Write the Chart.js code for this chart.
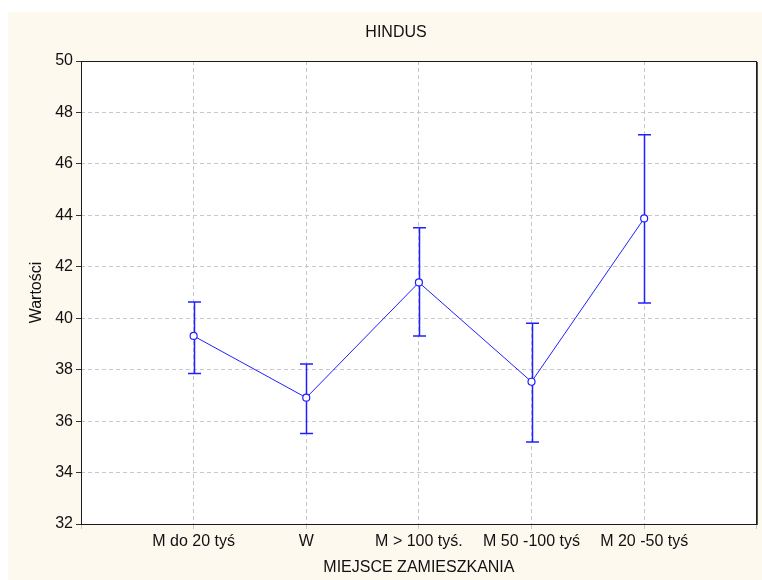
<!DOCTYPE html>
<html>
<head>
<meta charset="utf-8">
<script src="https://cdn.jsdelivr.net/npm/chart.js@4.4.1/dist/chart.umd.min.js"></script>
<style>
  html, body { margin: 0; padding: 0; background: #fff; }
  #wrap { width: 762px; height: 580px; }
</style>
</head>
<body>
<div id="wrap"><canvas id="chart" width="762" height="580"></canvas></div>
<script>
// values (means with confidence limits)
const chartTitle = 'HINDUS';
const categories = ['M do 20 tyś', 'W', 'M > 100 tyś.', 'M 50 -100 tyś', 'M 20 -50 tyś'];
const means = [39.31, 36.91, 41.39, 37.53, 43.88];
const lower = [37.85, 35.52, 39.31, 35.19, 40.59];
const upper = [40.63, 38.22, 43.52, 39.80, 47.13];
const yTicks = [32, 34, 36, 38, 40, 42, 44, 46, 48, 50];

const blue = 'rgb(32,32,255)';
const cream = '#fdf9ef';
const fontFamily = '"Liberation Sans", Arial, sans-serif';

// empty slots at both ends give the full-step margin seen in the reference
const labels = [''].concat(categories, ['']);
const pad = arr => [null].concat(arr, [null]);

const background = {
  id: 'background',
  beforeDraw(chart) {
    const { ctx, chartArea: a } = chart;
    ctx.save();
    ctx.fillStyle = cream;
    ctx.fillRect(8, 12, chart.width - 8, chart.height - 12);
    ctx.fillStyle = '#fff';
    ctx.fillRect(a.left, a.top, a.right - a.left, a.bottom - a.top);
    ctx.restore();
  },
  afterDraw(chart) {
    const { ctx, chartArea: a } = chart;
    ctx.save();
    ctx.strokeStyle = '#1a1a1a';
    ctx.lineWidth = 1;
    ctx.strokeRect(Math.round(a.left) + 0.5, Math.round(a.top) + 0.5,
      Math.round(a.right - a.left) - 1, Math.round(a.bottom - a.top));
    ctx.strokeStyle = '#555';
    ctx.beginPath();
    ctx.moveTo(Math.round(a.right) + 0.5, a.top + 1);
    ctx.lineTo(Math.round(a.right) + 0.5, a.bottom + 1);
    ctx.stroke();
    // chart title, placed as in the reference (a little right of the canvas centre)
    ctx.fillStyle = '#111';
    ctx.font = '16px ' + fontFamily;
    ctx.textAlign = 'center';
    ctx.textBaseline = 'middle';
    ctx.fillText(chartTitle, 396, 33);
    ctx.restore();
  }
};

const errorBars = {
  id: 'errorBars',
  beforeDatasetsDraw(chart) {
    const { ctx, scales: { x, y } } = chart;
    ctx.save();
    ctx.strokeStyle = blue;
    ctx.lineWidth = 1.5;
    for (let i = 0; i < categories.length; i++) {
      const px = Math.round(x.getPixelForValue(i + 1)) + 0.5;
      const yl = y.getPixelForValue(lower[i]);
      const yu = y.getPixelForValue(upper[i]);
      ctx.beginPath();
      ctx.moveTo(px, yl);
      ctx.lineTo(px, yu);
      ctx.moveTo(px - 6.5, yl);
      ctx.lineTo(px + 6.5, yl);
      ctx.moveTo(px - 6.5, yu);
      ctx.lineTo(px + 6.5, yu);
      ctx.stroke();
    }
    ctx.restore();
  }
};

const font = { family: fontFamily, size: 16 };

new Chart(document.getElementById('chart'), {
  type: 'line',
  data: {
    labels: labels,
    datasets: [{
      label: chartTitle,
      data: pad(means),
      borderColor: blue,
      borderWidth: 1,
      backgroundColor: '#fff',
      pointBackgroundColor: '#fff',
      pointBorderColor: blue,
      pointBorderWidth: 1.2,
      pointRadius: 3.5,
      tension: 0
    }]
  },
  options: {
    responsive: false,
    animation: false,
    devicePixelRatio: 1,
    layout: { padding: { left: 0, right: 2, top: 61, bottom: 0 } },
    plugins: {
      legend: { display: false },
      tooltip: { enabled: false },
      title: { display: false }
    },
    scales: {
      x: {
        type: 'category',
        offset: false,
        grid: { color: '#c8c8c8', tickLength: 5, tickColor: '#c8c8c8' },
        border: { display: false, dash: [4, 3] },
        ticks: { color: '#111', font: font, padding: 3, maxRotation: 0, autoSkip: false },
        title: {
          display: true,
          text: 'MIEJSCE ZAMIESZKANIA',
          color: '#111',
          font: font,
          padding: { top: 0, bottom: 3 }
        },
        afterFit(scale) { scale.height = 56; }
      },
      y: {
        min: 32,
        max: 50,
        afterBuildTicks(scale) { scale.ticks = yTicks.map(v => ({ value: v })); },
        grid: { color: '#c8c8c8', tickLength: 5, tickColor: '#333' },
        border: { display: false, dash: [4, 3] },
        ticks: { color: '#111', font: font, padding: 3 },
        title: {
          display: true,
          text: 'Wartości',
          color: '#111',
          font: font,
          padding: { top: 27, bottom: 0 }
        },
        afterFit(scale) { scale.width = 81; }
      }
    }
  },
  plugins: [background, errorBars]
});
</script>
</body>
</html>
